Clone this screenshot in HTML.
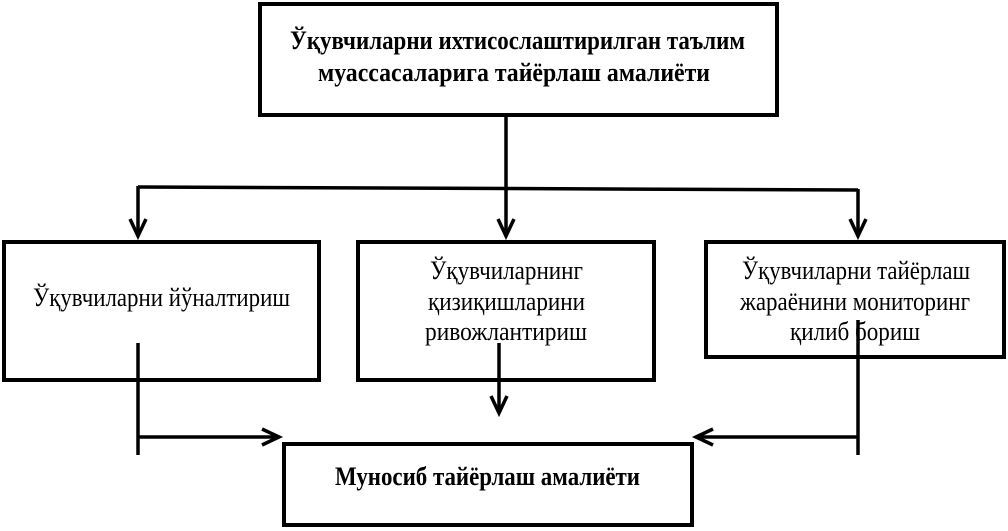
<!DOCTYPE html>
<html><head><meta charset="utf-8"><style>html,body{margin:0;padding:0;background:#fff}svg{display:block}</style></head>
<body>
<svg width="1008" height="531" viewBox="0 0 1008 531" xmlns="http://www.w3.org/2000/svg" font-family="'Liberation Serif', serif" fill="#000">
<g fill="none" stroke="#000" stroke-width="4">
<rect x="260" y="4" width="517" height="111"/>
<rect x="4" y="242" width="315" height="138"/>
<rect x="358" y="242" width="296" height="138"/>
<rect x="706" y="242" width="298" height="115"/>
<rect x="284" y="444" width="408" height="81"/>
</g>
<g fill="none" stroke="#000" stroke-width="3.5">
<line x1="506" y1="115" x2="506" y2="236"/>
<line x1="138" y1="187" x2="858" y2="190"/>
<line x1="138" y1="186" x2="138" y2="236"/>
<line x1="858" y1="189" x2="858" y2="236"/>
<polyline points="130,219 138,236 146,219"/>
<polyline points="498,219 506,236 514,219"/>
<polyline points="850,219 858,236 866,219"/>
<line x1="138" y1="343" x2="138" y2="455"/>
<line x1="138" y1="437" x2="278" y2="437"/>
<polyline points="262,429 279,437 262,445"/>
<line x1="499" y1="343" x2="499" y2="412"/>
<polyline points="491,396 499,413 507,396"/>
<line x1="858" y1="320" x2="858" y2="455"/>
<line x1="858" y1="437" x2="697" y2="437"/>
<polyline points="713,429 696,437 713,445"/>
</g>
<g font-size="26">
<text x="290" y="49" font-weight="bold" textLength="455" lengthAdjust="spacingAndGlyphs">Ўқувчиларни ихтисослаштирилган таълим</text>
<text x="318" y="81" font-weight="bold" textLength="392" lengthAdjust="spacingAndGlyphs">муассасаларига тайёрлаш амалиёти</text>
<text x="33" y="306" textLength="257" lengthAdjust="spacingAndGlyphs">Ўқувчиларни йўналтириш</text>
<text x="430" y="279" textLength="153" lengthAdjust="spacingAndGlyphs">Ўқувчиларнинг</text>
<text x="428" y="310" textLength="157" lengthAdjust="spacingAndGlyphs">қизиқишларини</text>
<text x="425" y="340" textLength="162" lengthAdjust="spacingAndGlyphs">ривожлантириш</text>
<text x="742" y="279" textLength="228" lengthAdjust="spacingAndGlyphs">Ўқувчиларни тайёрлаш</text>
<text x="740" y="310" textLength="230" lengthAdjust="spacingAndGlyphs">жараёнини мониторинг</text>
<text x="790" y="340" textLength="130" lengthAdjust="spacingAndGlyphs">қилиб бориш</text>
<text x="335" y="485" font-weight="bold" textLength="305" lengthAdjust="spacingAndGlyphs">Муносиб тайёрлаш амалиёти</text>
</g>
</svg>
</body></html>
